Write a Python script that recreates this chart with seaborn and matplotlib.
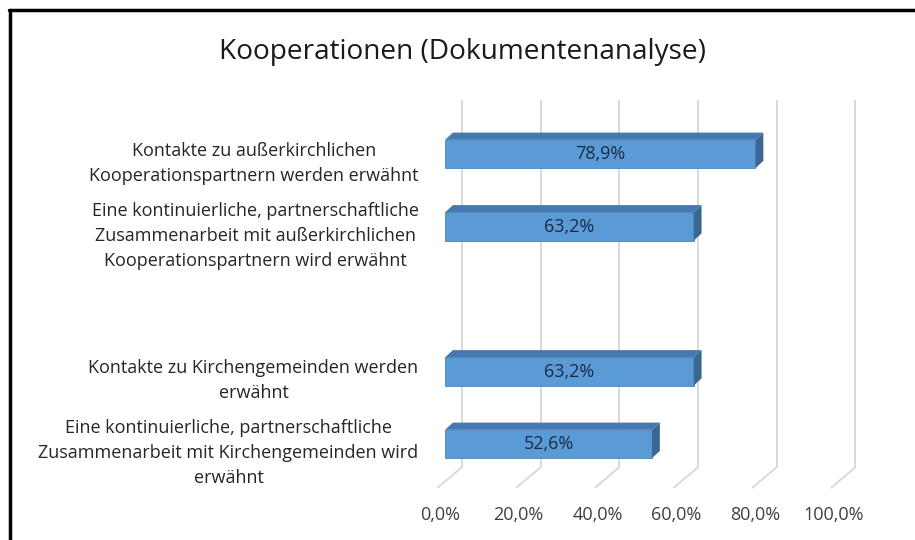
import matplotlib
matplotlib.use("Agg")
import matplotlib.pyplot as plt
import matplotlib.transforms as mtransforms
from matplotlib.lines import Line2D
from matplotlib.patches import Polygon
import seaborn as sns
import pandas as pd

# data
categories = [
    "Kontakte zu außerkirchlichen\nKooperationspartnern werden erwähnt",
    "Eine kontinuierliche, partnerschaftliche\nZusammenarbeit mit außerkirchlichen\nKooperationspartnern wird erwähnt",
    "Kontakte zu Kirchengemeinden werden\nerwähnt",
    "Eine kontinuierliche, partnerschaftliche\nZusammenarbeit mit Kirchengemeinden wird\nerwähnt",
]
values = [78.9, 63.2, 63.2, 52.6]
# empty slot between the two groups
order = [categories[0], categories[1], " ", categories[2], categories[3]]
x_ticks = [0, 20, 40, 60, 80, 100]
tick_labels = ["0,0%", "20,0%", "40,0%", "60,0%", "80,0%", "100,0%"]
title = "Kooperationen (Dokumentenanalyse)"

df = pd.DataFrame({"Kategorie": categories, "Anteil": values})

sns.set_theme(style="white")
plt.rcParams["font.family"] = ["Open Sans", "DejaVu Sans"]

W, H = 915, 540
fig = plt.figure(figsize=(W / 100, H / 100), dpi=100)
# axes: 0% front plane at x=445px, 100% at 838.5px; y slots -0.7..4.6
ax = fig.add_axes([445 / W, 1 - 487.5 / H, 393.5 / W, (487.5 - 103.25) / H])

front = "#5B9BD5"
top_c = "#4679B0"
side_c = "#3A6794"
grid_c = "#D9D9D9"
fs = 13

sns.barplot(data=df, y="Kategorie", x="Anteil", order=order, orient="h",
            color=front, saturation=1, width=0.39, ax=ax, zorder=3,
            edgecolor="#4A86C0", linewidth=0.6)

ax.set_xlim(0, 100)
ax.set_ylim(4.6, -0.7)

# 3D-ish back wall gridlines and floor
dx_back, dx_floor, y_top, y_wall, y_floor = 4.3, -1.8, -0.75, 4.32, 4.6
for t in x_ticks:
    ax.plot([t + dx_back, t + dx_back], [y_top, y_wall], color=grid_c, lw=1.4,
            zorder=1, clip_on=False, solid_capstyle="butt")
    ax.plot([t + dx_back, t + dx_floor], [y_wall, y_floor], color=grid_c, lw=1.4,
            zorder=1, clip_on=False)

# top and side faces of bars
dx, dy = 2.0, 0.1
for p in ax.patches:
    w = p.get_width()
    if not w or w != w:
        continue
    x0, y0, h = p.get_x(), p.get_y(), p.get_height()
    x1 = x0 + w
    ax.add_patch(Polygon([(x0, y0), (x1, y0), (x1 + dx, y0 - dy), (x0 + dx, y0 - dy)],
                         closed=True, facecolor=top_c, edgecolor="none", zorder=4,
                         clip_on=False))
    ax.add_patch(Polygon([(x1, y0), (x1 + dx, y0 - dy), (x1 + dx, y0 + h - dy), (x1, y0 + h)],
                         closed=True, facecolor=side_c, edgecolor="none", zorder=4,
                         clip_on=False))
    ax.text(x0 + w / 2, y0 + h / 2, f"{w:.1f}%".replace(".", ","), ha="center",
            va="center", fontsize=fs, color="#1B2A48", zorder=5)

ax.set_xticks(x_ticks)
ax.set_xticklabels(tick_labels, fontsize=fs, color="#404040")
ax.tick_params(axis="x", length=0, pad=13)
ax.tick_params(axis="y", length=0, pad=19)
for lab in ax.get_yticklabels():
    lab.set_multialignment("center")
    lab.set_fontsize(fs)
    lab.set_color("#262626")
    lab.set_linespacing(1.5)
    lab.set_transform(lab.get_transform() + mtransforms.ScaledTranslation(0, -3.5 / 100, fig.dpi_scale_trans))
for lab in ax.get_xticklabels():
    lab.set_transform(lab.get_transform() + mtransforms.ScaledTranslation(-5 / 100, 0, fig.dpi_scale_trans))
ax.set_xlabel("")
ax.set_ylabel("")
for s in ax.spines.values():
    s.set_visible(False)
ax.patch.set_alpha(0)

fig.text(462 / W, 1 - 52 / H, title, ha="center", va="center", fontsize=20.2, color="#1A1A1A")

# black frame on left and top edge of the screenshot
fig.add_artist(Line2D([10 / W, 10 / W], [0, 1 - 10 / H], color="black", lw=2.5, transform=fig.transFigure))
fig.add_artist(Line2D([9 / W, 1], [1 - 10 / H, 1 - 10 / H], color="black", lw=2.5, transform=fig.transFigure))

fig.savefig("out.png", dpi=100)
